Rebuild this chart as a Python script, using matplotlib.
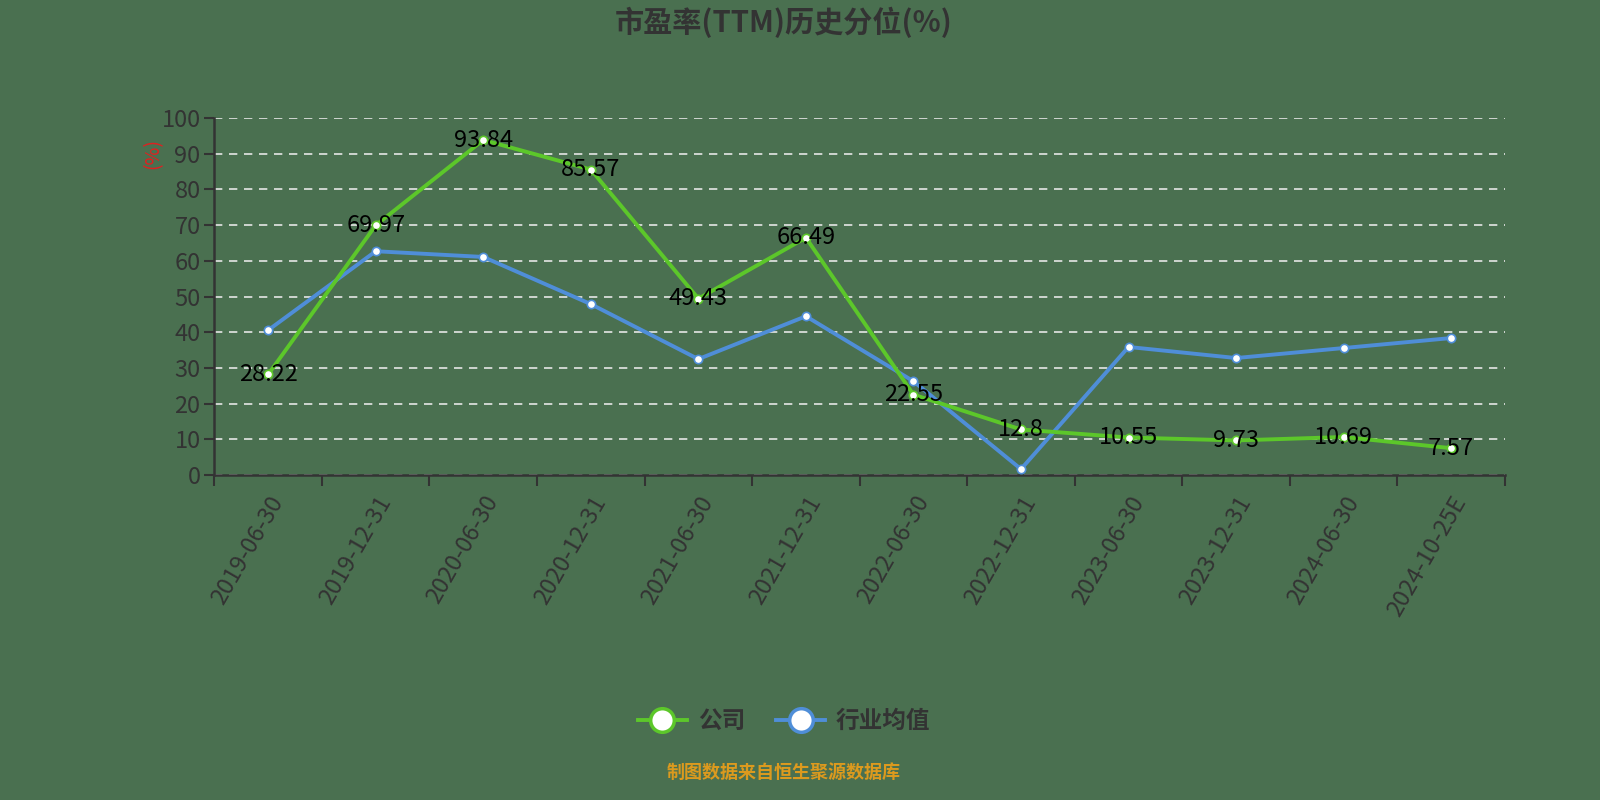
import numpy as np
import matplotlib
matplotlib.use("Agg")
import matplotlib.pyplot as plt
from matplotlib.lines import Line2D

plt.rcParams['font.family'] = ['Noto Sans CJK SC', 'DejaVu Sans']

# Chart data
dates = ["2019-06-30", "2019-12-31", "2020-06-30", "2020-12-31", "2021-06-30", "2021-12-31",
         "2022-06-30", "2022-12-31", "2023-06-30", "2023-12-31", "2024-06-30", "2024-10-25E"]
company = [28.22, 69.97, 93.84, 85.57, 49.43, 66.49, 22.55, 12.8, 10.55, 9.73, 10.69, 7.57]
industry = [40.6, 62.7, 61.1, 47.9, 32.5, 44.5, 26.3, 1.7, 35.9, 32.8, 35.6, 38.4]
y_ticks = [0, 10, 20, 30, 40, 50, 60, 70, 80, 90, 100]

bg = "#4a7050"
text_dark = "#333333"
green = "#5cc72a"
blue = "#4f8ed8"

fig = plt.figure(figsize=(16, 8), dpi=100, facecolor=bg)
ax = fig.add_axes([0.134, 0.406, 0.8066, 0.4465])
ax.set_facecolor(bg)

x = np.arange(len(dates))

ax.plot(x, industry, color=blue, lw=2.8, marker='o', ms=6, mfc='white', mec=blue, mew=1.2, zorder=3)
ax.plot(x, company, color=green, lw=2.8, marker='o', ms=6, mfc='white', mec=green, mew=1.2, zorder=4)

# Value labels on the company line
for xi, v in zip(x, company):
    ax.text(xi, v, f"{v:g}", ha='center', va='center', fontsize=17, color='black',
            fontweight='medium', zorder=5)

ax.set_xlim(-0.5, len(dates) - 0.5)
ax.set_ylim(0, 100)
ax.set_yticks(y_ticks)
ax.tick_params(axis='y', labelsize=17, labelcolor=text_dark, color=text_dark, length=7, width=1.5, pad=3)

# Category labels at centres, tick marks at boundaries
ax.set_xticks(x)
ax.set_xticklabels(dates, rotation=60, ha='right', rotation_mode='anchor')
ax.tick_params(axis='x', which='major', length=0, labelsize=17, labelcolor=text_dark, pad=12)
ax.set_xticks(np.arange(-0.5, len(dates)), minor=True)
ax.tick_params(axis='x', which='minor', length=8, width=1.5, color=text_dark)
for lbl in ax.get_xticklabels() + ax.get_yticklabels():
    lbl.set_fontweight('medium')

ax.grid(axis='y', color='#e6e6e6', linestyle=(0, (5, 4)), lw=1.2)
for side in ['top', 'right']:
    ax.spines[side].set_visible(False)
for side in ['left', 'bottom']:
    ax.spines[side].set_color(text_dark)
    ax.spines[side].set_linewidth(1.8)

ax.text(-0.048, 0.9, "(%)", transform=ax.transAxes, rotation=90, color='#e02020',
        fontsize=14, ha='center', va='center')

fig.text(0.49, 0.972, "市盈率(TTM)历史分位(%)", ha='center', va='center', fontsize=21,
         fontweight='bold', color=text_dark)

handles = [
    Line2D([0], [0], color=green, lw=2.8, marker='o', ms=17, mfc='white', mec=green, mew=2.5),
    Line2D([0], [0], color=blue, lw=2.8, marker='o', ms=17, mfc='white', mec=blue, mew=2.5),
]
leg = fig.legend(handles, ["公司", "行业均值"], loc='center', bbox_to_anchor=(0.49, 0.099), ncol=2,
                 frameon=False, fontsize=17, handlelength=2.1, columnspacing=1.3, handletextpad=0.45)
for t in leg.get_texts():
    t.set_color(text_dark)
    t.set_fontweight('bold')

fig.text(0.49, 0.034, "制图数据来自恒生聚源数据库", ha='center', va='center', fontsize=13,
         fontweight='bold', color='#dc9a1e')

fig.savefig("out.png", dpi=100, facecolor=bg)
